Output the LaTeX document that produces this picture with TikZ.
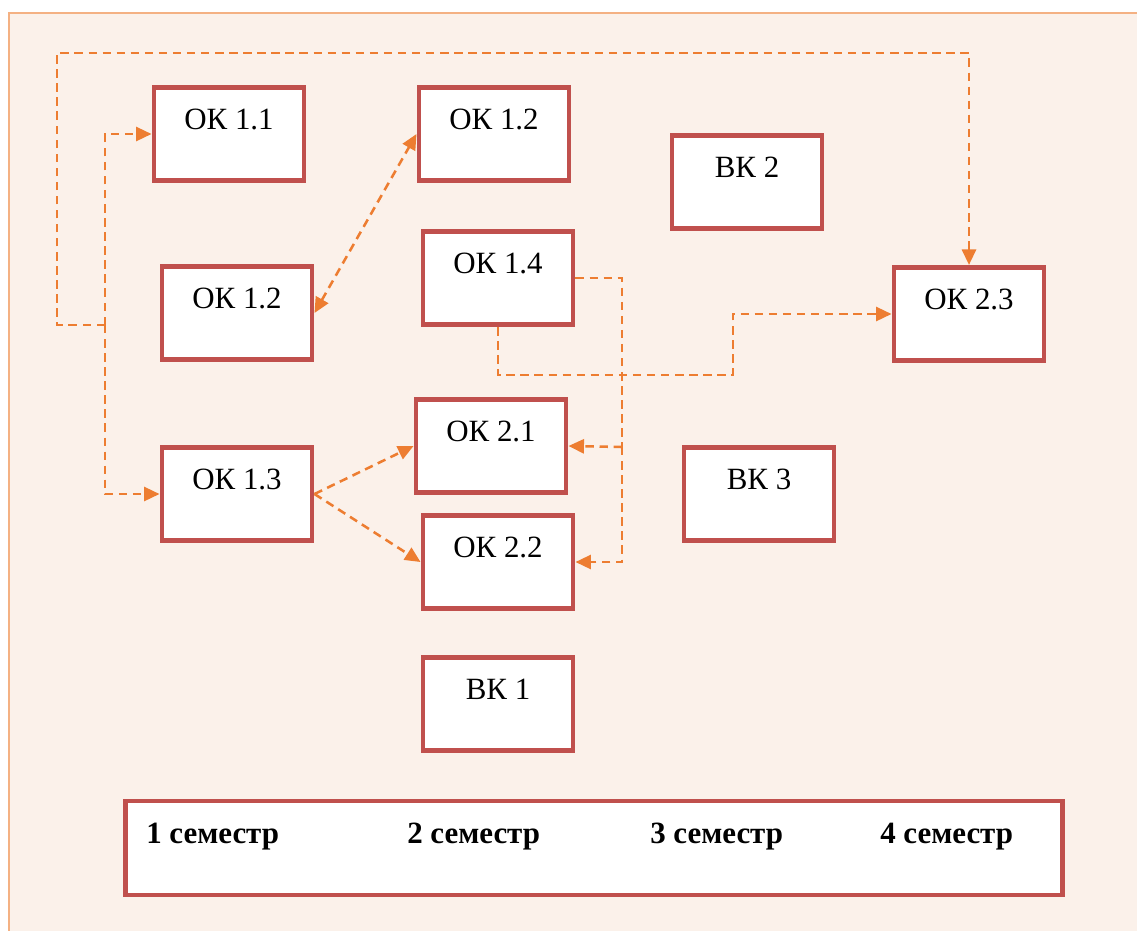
\documentclass[tikz,border=0pt]{standalone}
\usepackage{fontspec}
\setmainfont{Liberation Serif}
\usetikzlibrary{arrows.meta}
\definecolor{boxred}{HTML}{C0504D}
\definecolor{linkorange}{HTML}{ED7D31}
\definecolor{pagebg}{HTML}{FBF1EA}
\definecolor{frameorange}{HTML}{F4B183}

\begin{document}
\begin{tikzpicture}
[
x=0.025cm, y=-0.025cm,
course/.style={draw=boxred,line width=3.5pt,fill=white,inner sep=0pt,
            minimum width=3.75cm,minimum height=2.33cm,
            text height=1.05cm,text depth=1.28cm,
            font=\fontsize{22}{26}\selectfont},
semtext/.style={anchor=base west,inner sep=0pt,font=\fontsize{22}{26}\selectfont\bfseries},
link/.style={draw=linkorange,line width=1.8pt,dash pattern=on 6pt off 4pt},
tip/.style={-{Triangle[length=11pt,width=10pt]}},
twotip/.style={{Triangle[length=11pt,width=10pt]}-{Triangle[length=11pt,width=10pt]}},
]

\useasboundingbox (0,0) rectangle (1137,930);
%Background frame
\draw[frameorange,line width=1.4pt,fill=pagebg] (9,13) rectangle (1170,970);

%Place the nodes
\node[course] (ok11) at (229,134) {ОК 1.1};
\node[course] (ok12a) at (494,134) {ОК 1.2};
\node[course] (vk2) at (747,182) {ВК 2};
\node[course] (ok12b) at (237,313) {ОК 1.2};
\node[course] (ok14) at (498,278) {ОК 1.4};
\node[course] (ok23) at (969,314) {ОК 2.3};
\node[course] (ok21) at (491,446) {ОК 2.1};
\node[course] (ok13) at (237,494) {ОК 1.3};
\node[course] (vk3) at (759,494) {ВК 3};
\node[course] (ok22) at (498,562) {ОК 2.2};
\node[course] (vk1) at (498,704) {ВК 1};

%Semesters
\node[draw=boxred,line width=3.5pt,fill=white,minimum width=23.42cm,minimum height=2.35cm] (sem) at (594,848) {};
\node[semtext] (s1) at (146,843) {1 семестр};
\node[semtext] (s2) at (407,843) {2 семестр};
\node[semtext] (s3) at (650,843) {3 семестр};
\node[semtext] (s4) at (880,843) {4 семестр};

%Draw the connections
\coordinate (j1) at (105,325);
\coordinate (j2) at (622,447);
\draw[link,tip] (j1) |- (ok11.west);
\draw[link,tip] (j1) |- (ok13.west);
\draw[link,tip] (j1) -- (57,325) -- (57,53) -| (ok23.north);
\draw[link,twotip] (ok12b.east) -- (ok12a.west);
\draw[link,tip] (ok13.east) -- (ok21.west);
\draw[link,tip] (ok13.east) -- (ok22.west);
\draw[link] (ok14.east) -| (j2);
\draw[link,tip] (j2) -- (ok21.east);
\draw[link,tip] (j2) |- (ok22.east);
\draw[link,tip] (ok14.south) |- (733,375) |- (ok23.west);
\end{tikzpicture}
\end{document}
